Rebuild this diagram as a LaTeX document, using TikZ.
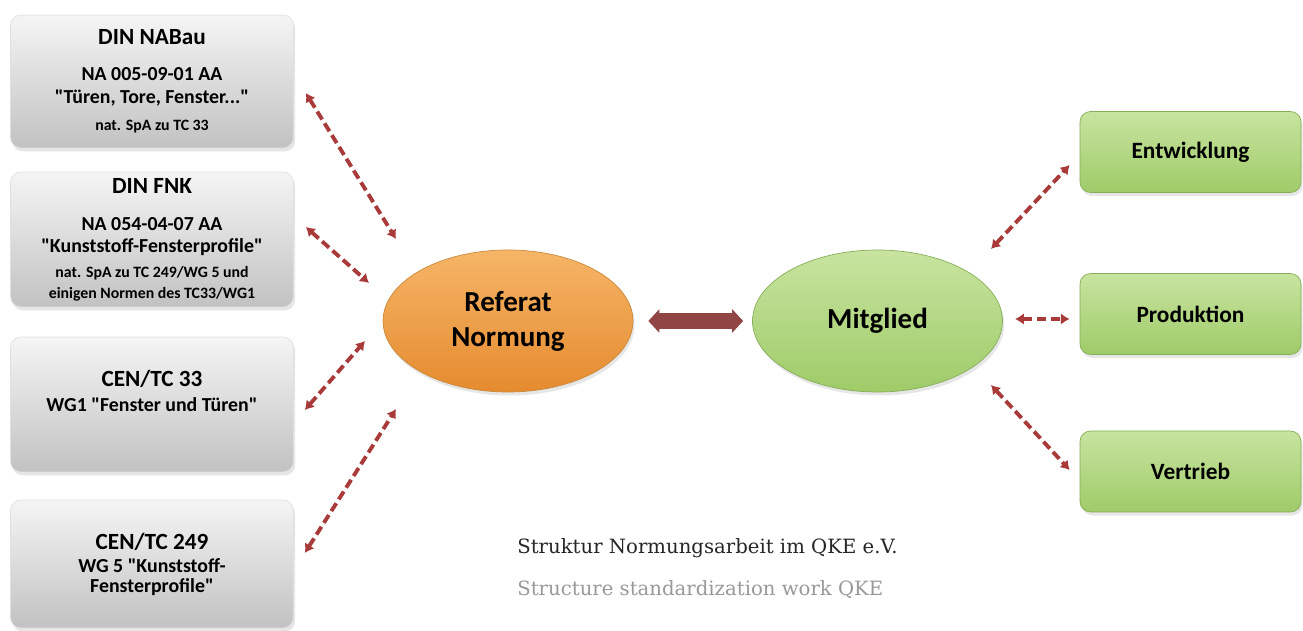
\documentclass[tikz,border=0pt]{standalone}
\usepackage{fontspec}
\setmainfont{Carlito}
\newfontfamily\capfont{DejaVu Serif}
\usetikzlibrary{shapes.geometric,arrows.meta,shadows}

\definecolor{linkred}{HTML}{A83A3A}
\definecolor{bigred}{HTML}{914545}
\definecolor{orangetop}{HTML}{F6B567}
\definecolor{orangebot}{HTML}{E58B2F}
\definecolor{orangeline}{HTML}{C98A3A}
\definecolor{greentop}{HTML}{C8E4A0}
\definecolor{greenbot}{HTML}{9FCB68}
\definecolor{greenline}{HTML}{86AE58}

\newcommand{\headsize}{\fontsize{13.2}{15}\selectfont}
\newcommand{\midsize}{\fontsize{11.3}{13}\selectfont}
\newcommand{\smallsize}{\fontsize{9}{11}\selectfont}
\newcommand{\qq}{\textquotedbl}

\begin{document}
\begin{tikzpicture}[
		x=0.02cm, y=-0.02cm,
		every node/.style={font=\bfseries, text=black},
		graybox/.style={rectangle, rounded corners=6pt, draw=black!12, top color=black!4, bottom color=black!24,
			minimum width=5.66cm, align=center, inner sep=0pt,
			drop shadow={shadow xshift=1pt, shadow yshift=-2pt, opacity=0.2}},
		greenbox/.style={rectangle, rounded corners=6pt, draw=greenline, top color=greentop, bottom color=greenbot,
			minimum width=4.42cm, minimum height=1.62cm, font=\bfseries\fontsize{13.3}{15}\selectfont,
			drop shadow={shadow xshift=1pt, shadow yshift=-2pt, opacity=0.2}},
		blob/.style={ellipse, minimum width=5cm, minimum height=2.84cm, font=\bfseries\fontsize{16.5}{20}\selectfont,
			align=center, drop shadow={shadow xshift=1pt, shadow yshift=-2pt, opacity=0.2}},
		link/.style={draw=linkred, line width=2.2pt, dash pattern=on 5.3pt off 2.6pt,
			{Latex[length=5pt,width=6.5pt]}-{Latex[length=5pt,width=6.5pt]}},
		bigarrow/.style={draw=bigred, line width=0.32cm,
			{Triangle[length=0.22cm,width=0.46cm]}-{Triangle[length=0.22cm,width=0.46cm]}},
		caption/.style={anchor=west, inner sep=0pt, font=\capfont\fontsize{11.2}{13}\selectfont}
	]
  \useasboundingbox (0,0) rectangle (1303,631);

  % left: committees
  \node (din_nabau) [graybox, minimum height=2.66cm] at (152,81.5)
    {\headsize DIN NABau\\[8.2pt]
     \midsize NA 005-09-01 AA\\[1.1pt] \midsize \qq Türen, Tore, Fenster...\qq\\[3.5pt]
     \smallsize nat. SpA zu TC 33};
  \node (din_fnk) [graybox, minimum height=2.7cm] at (152,239.5)
    {\headsize DIN FNK\\[9pt]
     \midsize NA 054-04-07 AA\\[0.6pt] \midsize \qq Kunststoff-Fensterprofile\qq\\[2.5pt]
     \smallsize nat. SpA zu TC 249/WG 5 und\\[-0.5pt] \smallsize einigen Normen des TC33/WG1};
  \node (cen_33) [graybox, minimum height=2.7cm, text depth=0.55cm] at (152,404.5)
    {\headsize CEN/TC 33\\[2pt]
     \midsize WG1 \qq Fenster und Türen\qq};
  \node (cen_249) [graybox, minimum height=2.56cm] at (152,564)
    {\headsize CEN/TC 249\\[1.5pt]
     \midsize WG 5 \qq Kunststoff-\\[-1pt] \midsize Fensterprofile\qq};

  % middle
  \node (referat) [blob, draw=orangeline, top color=orangetop, bottom color=orangebot] at (508,321) {Referat\\Normung};
  \node (mitglied) [blob, draw=greenline, top color=greentop, bottom color=greenbot] at (877.5,321) {Mitglied};

  % right: departments
  \node (entw) [greenbox] at (1190.5,152) {Entwicklung};
  \node (prod) [greenbox] at (1190.5,314) {Produktion};
  \node (vertrieb) [greenbox] at (1190.5,471.5) {Vertrieb};

  \coordinate (ref_in1) at (396,239);
  \coordinate (ref_in2) at (369,283);
  \coordinate (ref_in3) at (365,341);
  \coordinate (ref_in4) at (396,409);
  \coordinate (mit_out1) at (991,249);
  \coordinate (mit_out2) at (1015,319);
  \coordinate (mit_out3) at (991,385);

  \draw ([shift={(12,11.5)}]din_nabau.east) edge[link] (ref_in1);
  \draw ([shift={(12,-12.5)}]din_fnk.east) edge[link] (ref_in2);
  \draw ([shift={(11,5.5)}]cen_33.east) edge[link] (ref_in3);
  \draw ([shift={(11,-11)}]cen_249.east) edge[link] (ref_in4);
  \draw (mit_out1) edge[link] ([shift={(-10,13)}]entw.west);
  \draw (mit_out2) edge[link] ([shift={(-10,5)}]prod.west);
  \draw (mit_out3) edge[link] ([shift={(-10,-1.5)}]vertrieb.west);

  \draw[bigarrow, shorten <=0.3cm, shorten >=0.18cm] (referat) -- (mitglied);

  \node (caption_de) [caption, text=black!85] at (517,548) {Struktur Normungsarbeit im QKE e.V.};
  \node (caption_en) [caption, text=black!40] at (517,590) {Structure standardization work QKE};
\end{tikzpicture}
\end{document}
